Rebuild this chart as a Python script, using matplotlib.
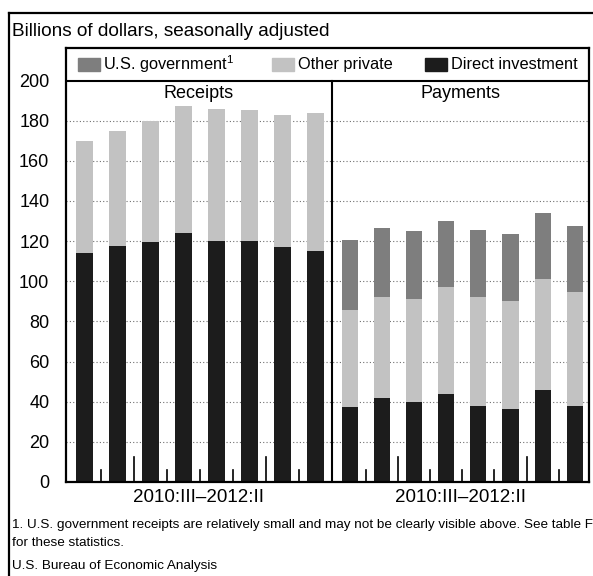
import numpy as np
import matplotlib
matplotlib.use("Agg")
import matplotlib.pyplot as plt
from matplotlib.lines import Line2D
from matplotlib.patches import Rectangle

plt.rcParams["font.family"] = ["Liberation Sans", "DejaVu Sans"]
plt.rcParams["mathtext.fontset"] = "custom"
plt.rcParams["mathtext.rm"] = "Liberation Sans"

# quarters 2010:III .. 2012:II, billions of dollars
QUARTERS = ["2010:III", "2010:IV", "2011:I", "2011:II",
            "2011:III", "2011:IV", "2012:I", "2012:II"]

receipts_direct = [114.1, 117.4, 119.4, 124.2, 120.2, 120.2, 117.1, 115.1]
receipts_other = [55.7, 57.7, 60.2, 63.2, 65.4, 64.9, 65.5, 68.8]
# too small to show in the chart (see footnote)
receipts_gov = [0.0, 0.0, 0.0, 0.0, 0.0, 0.0, 0.0, 0.0]

payments_direct = [37.5, 41.9, 39.8, 43.6, 38.0, 36.5, 45.6, 37.8]
payments_other = [48.1, 50.5, 51.6, 53.6, 54.2, 53.7, 55.5, 56.7]
payments_gov = [34.8, 34.1, 33.5, 32.7, 33.3, 33.3, 32.9, 32.9]

SERIES_LABELS = ["U.S. government", "Other private", "Direct investment"]
PANEL_TITLES = ["Receipts", "Payments"]
PERIOD_LABEL = "2010:III\u20132012:II"
Y_TICKS = list(range(0, 201, 20))

COLOR_DIRECT = "#1c1c1c"
COLOR_OTHER = "#c2c2c2"
COLOR_GOV = "#7e7e7e"


def stack(ax, x, direct, other, gov, width):
    direct = np.array(direct)
    other = np.array(other)
    gov = np.array(gov)
    ax.bar(x, direct, width, color=COLOR_DIRECT, zorder=2)
    ax.bar(x, other, width, bottom=direct, color=COLOR_OTHER, zorder=2)
    ax.bar(x, gov, width, bottom=direct + other, color=COLOR_GOV, zorder=2)


def main() -> None:
    fig = plt.figure(figsize=(5.93, 5.76), dpi=100)
    ax = fig.add_axes([66 / 593, 1 - 482 / 576, 523 / 593, 434 / 576])

    top = 216.2
    ax.set_ylim(0, top)
    ax.set_xlim(0, 523 / 33)

    n = len(QUARTERS)
    rx = np.arange(n) + 0.56
    divider = 8.05
    px = 8.6 + np.arange(n) * 0.974
    width = 0.49

    # grid
    for y in Y_TICKS[1:-1]:
        ax.axhline(y, color="#707070", lw=0.8, ls=(0, (1, 2)), zorder=1)

    stack(ax, rx, receipts_direct, receipts_other, receipts_gov, width)
    stack(ax, px, payments_direct, payments_other, payments_gov, width)

    # legend band separator and panel divider
    ax.axhline(200, color="black", lw=1.5, zorder=3)
    ax.plot([divider, divider], [0, 200], color="black", lw=1.5, zorder=3)

    # period ticks along the baseline (long ones at year boundaries)
    for xs in (rx, px):
        mids = (xs[:-1] + xs[1:]) / 2
        for i, m in enumerate(mids):
            h = 12.4 if i in (1, 5) else 6.0
            ax.plot([m, m], [0, h], color="black", lw=1.2, zorder=3)

    # panel titles
    ax.text(divider / 2, 193.5, PANEL_TITLES[0], ha="center", va="center", fontsize=13)
    ax.text((divider + 523 / 33) / 2, 193.5, PANEL_TITLES[1], ha="center", va="center", fontsize=13)

    # legend inside the band
    legend_items = [
        (0.35, COLOR_GOV, SERIES_LABELS[0] + r"$^{\mathregular{1}}$"),
        (6.24, COLOR_OTHER, SERIES_LABELS[1]),
        (10.88, COLOR_DIRECT, SERIES_LABELS[2]),
    ]
    for x0, color, label in legend_items:
        ax.add_patch(Rectangle((x0, 204.6), 0.68, 6.8, color=color, zorder=3, clip_on=False))
        ax.text(x0 + 0.78, 208.0, label, ha="left", va="center", fontsize=11.8)

    ax.set_yticks(Y_TICKS)
    ax.set_yticklabels([str(t) for t in Y_TICKS], fontsize=13)
    ax.tick_params(axis="y", length=0, pad=12)
    ax.set_xticks([])
    for side in ("left", "right", "top", "bottom"):
        ax.spines[side].set_linewidth(1.6)

    # period labels below each panel
    ax.text(divider / 2, -7.9, PERIOD_LABEL, ha="center", va="center", fontsize=13.5)
    ax.text((divider + 523 / 33) / 2, -7.9, PERIOD_LABEL, ha="center", va="center", fontsize=13.5)

    # outer frame
    fig.add_artist(Line2D([9 / 593, 9 / 593], [0, 1 - 13 / 576], color="black", lw=1.6))
    fig.add_artist(Line2D([9 / 593, 1], [1 - 13 / 576, 1 - 13 / 576], color="black", lw=1.6))

    fig.text(12 / 593, 1 - 31 / 576, "Billions of dollars, seasonally adjusted",
             ha="left", va="center", fontsize=13.7)
    fig.text(12 / 593, 1 - 525 / 576,
             "1. U.S. government receipts are relatively small and may not be clearly visible above. See table F",
             ha="left", va="center", fontsize=9.7)
    fig.text(12 / 593, 1 - 543 / 576, "for these statistics.", ha="left", va="center", fontsize=9.7)
    fig.text(12 / 593, 1 - 566 / 576, "U.S. Bureau of Economic Analysis", ha="left", va="center", fontsize=9.7)

    fig.savefig("out.png", dpi=100)


if __name__ == "__main__":
    main()
